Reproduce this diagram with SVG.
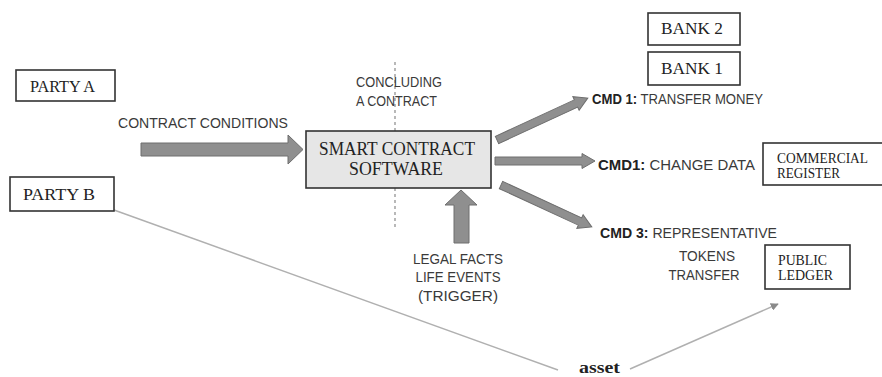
<svg xmlns="http://www.w3.org/2000/svg" width="882" height="377" viewBox="0 0 882 377">
  <style>
    .box { fill: #ffffff; stroke: #333333; stroke-width: 1.6; }
    .core { fill: #e6e6e6; stroke: #333333; stroke-width: 1.6; }
    .serif { font-family: "Liberation Serif", "Times New Roman", serif; fill: #222222; }
    .sans { font-family: "Liberation Sans", Arial, sans-serif; fill: #3a3a3a; font-size: 15px; }
    .fat { fill: #8f8f8f; stroke: #6e6e6e; stroke-width: 1; }
    .link { fill: none; stroke: #b0b0b0; stroke-width: 1.5; }
    .cut { stroke: #8a8a8a; stroke-width: 1.2; stroke-dasharray: 3 3; }
  </style>
  <defs>
    <!-- thin block arrow, 100 long, pointing along +x -->
    <path id="blockArrow" d="M0,-4 H87 V-7.5 L100,0 L87,7.5 V4 H0 Z"/>
    <marker id="tip" viewBox="0 0 10 10" refX="9" refY="5" markerWidth="8" markerHeight="8" orient="auto" markerUnits="userSpaceOnUse">
      <path d="M0,0 L10,5 L0,10 Z" fill="#8a8a8a"/>
    </marker>
  </defs>
  <rect width="882" height="377" fill="#ffffff"/>

  <g id="connectors">
    <!-- dashed boundary: concluding a contract -->
    <line class="cut" x1="395" y1="62" x2="395" y2="228"/>
    <!-- contract conditions -->
    <path class="fat" d="M141,143 H288 V135 L303,149.5 L288,164 V156 H141 Z"/>
    <!-- trigger from legal facts -->
    <path class="fat" d="M454,243 V205 H445 L461,190 L477,205 H469 V243 Z"/>
    <!-- commands -->
    <use href="#blockArrow" class="fat" transform="translate(497,140) rotate(-24.8)"/>
    <use href="#blockArrow" class="fat" transform="translate(495,161)"/>
    <use href="#blockArrow" class="fat" transform="translate(501,185) rotate(24.8)"/>
    <!-- asset path -->
    <line class="link" x1="114" y1="210" x2="558" y2="370"/>
    <line class="link" x1="630" y1="369" x2="778" y2="304" marker-end="url(#tip)"/>
  </g>

  <g id="party-a">
    <rect class="box" x="16" y="70" width="99" height="31"/>
    <text class="serif" x="30" y="92" font-size="16" textLength="65" lengthAdjust="spacingAndGlyphs">PARTY A</text>
  </g>

  <g id="party-b">
    <rect class="box" x="10" y="177" width="104" height="34"/>
    <text class="serif" x="23" y="200" font-size="17" textLength="72" lengthAdjust="spacingAndGlyphs">PARTY B</text>
  </g>

  <g id="contract-conditions">
    <text class="sans" x="118" y="128" textLength="170" lengthAdjust="spacingAndGlyphs">CONTRACT CONDITIONS</text>
  </g>

  <g id="concluding">
    <text class="sans" x="356" y="87" font-size="14" textLength="86" lengthAdjust="spacingAndGlyphs">CONCLUDING</text>
    <text class="sans" x="356" y="106" font-size="14" textLength="81" lengthAdjust="spacingAndGlyphs">A CONTRACT</text>
  </g>

  <g id="smart-contract">
    <rect class="core" x="306" y="131" width="185" height="57"/>
    <text class="serif" x="319" y="155" font-size="18" textLength="156" lengthAdjust="spacingAndGlyphs">SMART CONTRACT</text>
    <text class="serif" x="349" y="175" font-size="18" textLength="94" lengthAdjust="spacingAndGlyphs">SOFTWARE</text>
  </g>

  <g id="legal-facts">
    <text class="sans" x="458" y="264" text-anchor="middle" textLength="90" lengthAdjust="spacingAndGlyphs">LEGAL FACTS</text>
    <text class="sans" x="458" y="282" text-anchor="middle" textLength="85" lengthAdjust="spacingAndGlyphs">LIFE EVENTS</text>
    <text class="sans" x="458" y="301" text-anchor="middle" textLength="80" lengthAdjust="spacingAndGlyphs">(TRIGGER)</text>
  </g>

  <g id="bank-2">
    <rect class="box" x="648" y="13" width="92" height="32"/>
    <text class="serif" x="661" y="34" font-size="16" textLength="62" lengthAdjust="spacingAndGlyphs">BANK 2</text>
  </g>

  <g id="bank-1">
    <rect class="box" x="648" y="52" width="92" height="33"/>
    <text class="serif" x="661" y="74" font-size="16" textLength="62" lengthAdjust="spacingAndGlyphs">BANK 1</text>
  </g>

  <g id="cmd-transfer-money">
    <text class="sans" x="592" y="104" textLength="171" lengthAdjust="spacingAndGlyphs"><tspan font-weight="bold" fill="#222222">CMD 1:</tspan> TRANSFER MONEY</text>
  </g>

  <g id="cmd-change-data">
    <text class="sans" x="598" y="170" textLength="157" lengthAdjust="spacingAndGlyphs"><tspan font-weight="bold" fill="#222222">CMD1:</tspan> CHANGE DATA</text>
  </g>

  <g id="commercial-register">
    <rect class="box" x="763" y="143" width="122" height="42"/>
    <text class="serif" x="777" y="163" font-size="14.5" textLength="91" lengthAdjust="spacingAndGlyphs">COMMERCIAL</text>
    <text class="serif" x="777" y="178" font-size="14.5" textLength="63" lengthAdjust="spacingAndGlyphs">REGISTER</text>
  </g>

  <g id="cmd-tokens-transfer">
    <text class="sans" x="600" y="238" textLength="177" lengthAdjust="spacingAndGlyphs"><tspan font-weight="bold" fill="#222222">CMD 3:</tspan> REPRESENTATIVE</text>
    <text class="sans" x="707" y="261" text-anchor="middle" textLength="56" lengthAdjust="spacingAndGlyphs">TOKENS</text>
    <text class="sans" x="704" y="280" text-anchor="middle" textLength="71" lengthAdjust="spacingAndGlyphs">TRANSFER</text>
  </g>

  <g id="public-ledger">
    <rect class="box" x="765" y="245" width="85" height="44"/>
    <text class="serif" x="778" y="265" font-size="14.5" textLength="49" lengthAdjust="spacingAndGlyphs">PUBLIC</text>
    <text class="serif" x="778" y="280" font-size="14.5" textLength="55" lengthAdjust="spacingAndGlyphs">LEDGER</text>
  </g>

  <g id="asset">
    <text class="serif" x="579" y="373" font-size="17" font-weight="bold" textLength="41" lengthAdjust="spacingAndGlyphs">asset</text>
  </g>
</svg>
